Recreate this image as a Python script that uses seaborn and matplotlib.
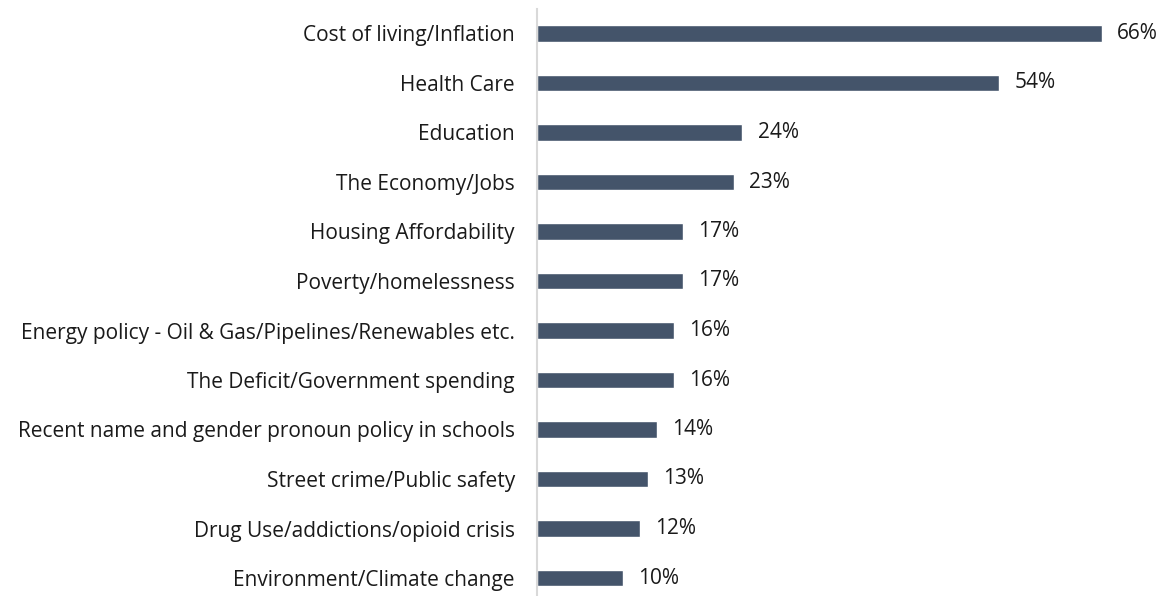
import matplotlib
matplotlib.use("Agg")
import matplotlib.pyplot as plt
import seaborn as sns
import pandas as pd

categories = [
    "Cost of living/Inflation",
    "Health Care",
    "Education",
    "The Economy/Jobs",
    "Housing Affordability",
    "Poverty/homelessness",
    "Energy policy - Oil & Gas/Pipelines/Renewables etc.",
    "The Deficit/Government spending",
    "Recent name and gender pronoun policy in schools",
    "Street crime/Public safety",
    "Drug Use/addictions/opioid crisis",
    "Environment/Climate change",
]
values = [66, 54, 24, 23, 17, 17, 16, 16, 14, 13, 12, 10]

df = pd.DataFrame({"issue": categories, "pct": values})

sns.set_theme(style="white")
plt.rcParams["font.family"] = ["Open Sans", "DejaVu Sans"]

W, H = 1164, 596
fig = plt.figure(figsize=(W / 100, H / 100), dpi=100)
ax = fig.add_axes([537 / W, -6.75 / H, (W - 537) / W, 594 / H])

sns.barplot(data=df, x="pct", y="issue", color="#44546A", saturation=1,
            width=0.34, ax=ax, orient="h")

ax.set_xlim(0, (W - 537) / 8.56)
ax.set_ylim(len(categories) - 0.5, -0.5)
ax.set_xlabel("")
ax.set_ylabel("")
ax.set_xticks([])
for side in ["top", "right", "bottom"]:
    ax.spines[side].set_visible(False)
ax.spines["left"].set_color("#D9D9D9")
ax.spines["left"].set_linewidth(1.5)
ax.tick_params(axis="y", length=0, pad=16, labelsize=15, labelcolor="#1a1a1a")

for container in ax.containers:
    ax.bar_label(container, labels=[f"{v}%" for v in values], padding=11,
                 fontsize=15, color="#1a1a1a")

fig.savefig("out.png", dpi=100)
